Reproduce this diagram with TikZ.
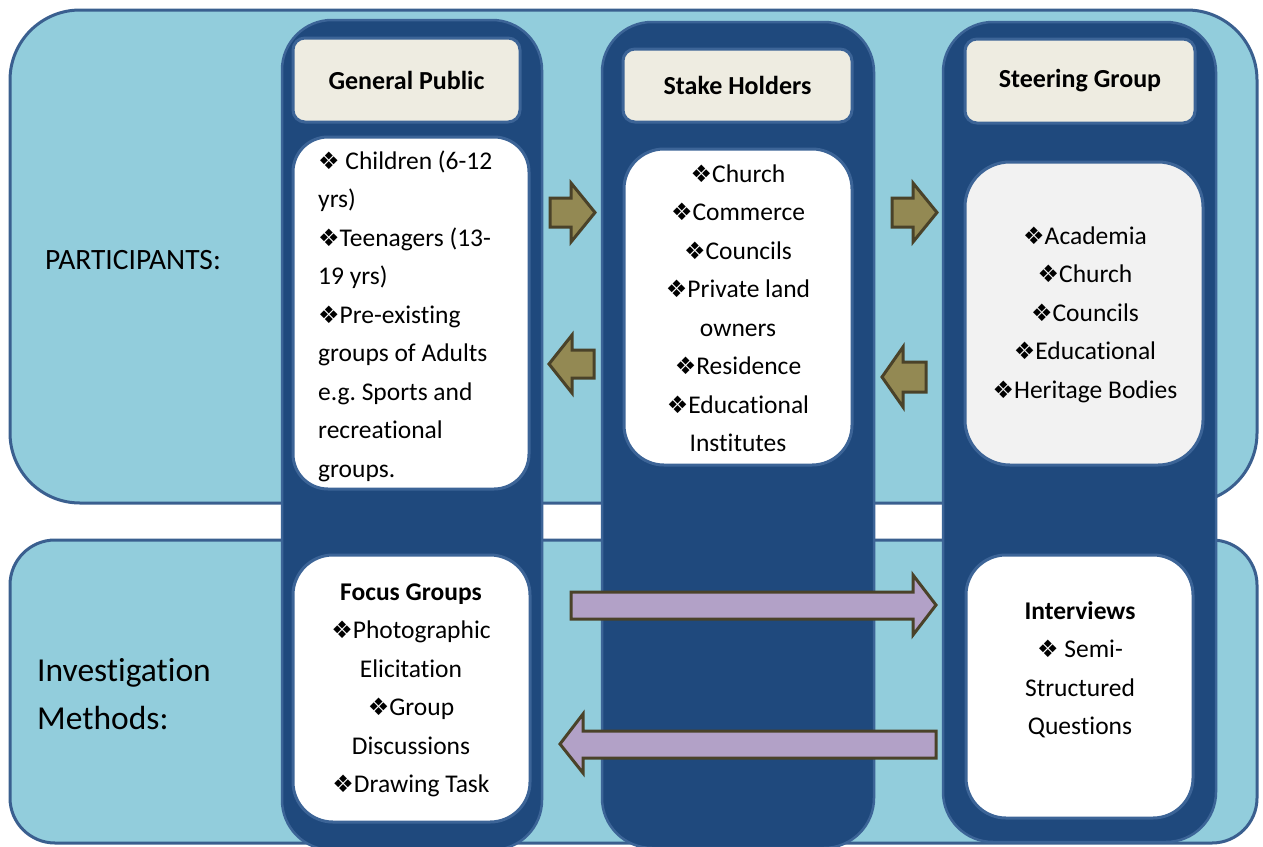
\documentclass[tikz,border=0pt]{standalone}
\usepackage{fontspec}
\setmainfont{Carlito}[Ligatures=NoCommon]
\newfontfamily\symf{DejaVu Sans}
\newcommand{\dia}{{\symf\fontsize{24}{24}\selectfont ❖}}
\definecolor{bandfill}{HTML}{92CDDC}
\definecolor{bandline}{HTML}{3A5F8F}
\definecolor{colfill}{HTML}{1F497D}
\definecolor{colline}{HTML}{3C6497}
\definecolor{headfill}{HTML}{EEECE1}
\definecolor{olivefill}{HTML}{938953}
\definecolor{arrline}{HTML}{4A4229}
\definecolor{lilac}{HTML}{B2A1C7}
\definecolor{greybox}{HTML}{F2F2F2}
\tikzset{
  band/.style={draw=bandline, line width=3pt, fill=bandfill, rectangle, inner sep=0},
  column/.style={draw=colline, line width=2.5pt, fill=colfill, rectangle, rounded corners=50pt, inner sep=0},
  header/.style={draw=colline, line width=3pt, fill=headfill, rectangle, rounded corners=12pt, inner sep=0, font=\fontsize{26}{30}\selectfont\bfseries},
  content/.style={draw=colline, line width=3pt, fill=white, rectangle, inner sep=0},
  txt/.style={inner sep=0, anchor=base, font=\fontsize{25.5}{38.5}\selectfont},
  blockarrow/.style={draw=arrline, line width=3pt, line join=miter},
}
\begin{document}
\begin{tikzpicture}[x=1pt,y=-1pt]
\useasboundingbox (0,0) rectangle (1263,846);
% bands
\node[band, rounded corners=70pt, minimum width=1247, minimum height=493] (topband) at (633.5,256.5) {};
\node[band, rounded corners=45pt, minimum width=1247, minimum height=303] (botband) at (633.5,691.5) {};
% columns
\node[column, minimum width=260, minimum height=830] (col1) at (412,435) {};
\node[column, minimum width=272, minimum height=826] (col2) at (738,435) {};
\node[column, minimum width=273, minimum height=820] (col3) at (1079.5,432) {};
% headers
\node[header, minimum width=227, minimum height=84] (h1) at (406.5,80) {General Public};
\node[header, minimum width=229, minimum height=73] (h2) at (737.5,85.5) {Stake Holders};
\node[header, minimum width=230, minimum height=84] (h3) at (1080,81) {Steering Group};
% content boxes
\node[content, rounded corners=35pt, minimum width=236, minimum height=352] (c1) at (411,313) {};
\node[content, rounded corners=40pt, minimum width=228, minimum height=316] (c2) at (738,307) {};
\node[content, fill=greybox, rounded corners=45pt, minimum width=238, minimum height=303] (c3) at (1084,313.5) {};
\node[content, rounded corners=40pt, minimum width=237, minimum height=267] (m1) at (411.5,688.5) {};
\node[content, rounded corners=40pt, minimum width=227, minimum height=263] (m2) at (1079.5,686.5) {};
% texts
\node[txt, anchor=base west] (t1) at (318,169) {\begin{tabular}[t]{@{}l@{}}\dia\ Children (6-12\\yrs)\\\dia Teenagers (13-\\19 yrs)\\\dia Pre-existing\\groups of Adults\\e.g.\ Sports and\\recreational\\groups.\end{tabular}};
\node[txt] (t2) at (738,182) {\begin{tabular}[t]{@{}c@{}}\dia Church\\\dia Commerce\\\dia Councils\\\dia Private land\\owners\\\dia Residence\\\dia Educational\\Institutes\end{tabular}};
\node[txt] (t3) at (1085,244) {\begin{tabular}[t]{@{}c@{}}\dia Academia\\\dia Church\\\dia Councils\\\dia Educational\\\dia Heritage Bodies\end{tabular}};
\node[txt] (t4) at (411,600) {\begin{tabular}[t]{@{}c@{}}\textbf{Focus Groups}\\\dia Photographic\\Elicitation\\\dia Group\\Discussions\\\dia Drawing Task\end{tabular}};
\node[txt] (t5) at (1080,619) {\begin{tabular}[t]{@{}c@{}}\textbf{Interviews}\\\dia\ Semi-\\Structured\\Questions\end{tabular}};
% side labels
\node[inner sep=0, anchor=west, font=\fontsize{29.5}{34}\selectfont] (lp) at (45,260) {PARTICIPANTS:};
\node[inner sep=0, anchor=base west, font=\fontsize{33.5}{48}\selectfont] (lm) at (37,681) {\begin{tabular}[t]{@{}l@{}}Investigation\\Methods:\end{tabular}};
% olive arrows
\draw[blockarrow, fill=olivefill] (550,198) -- (571,198) -- (571,183) -- (595,212.5) -- (571,242) -- (571,227) -- (550,227) -- cycle;
\draw[blockarrow, fill=olivefill] (594,350) -- (572,350) -- (572,335) -- (549,364) -- (572,393) -- (572,378) -- (594,378) -- cycle;
\draw[blockarrow, fill=olivefill] (892,198) -- (913,198) -- (913,183) -- (937,212.5) -- (913,242) -- (913,227) -- (892,227) -- cycle;
\draw[blockarrow, fill=olivefill] (926,362) -- (903,362) -- (903,347) -- (882,377) -- (903,407) -- (903,392) -- (926,392) -- cycle;
% lilac arrows
\draw[blockarrow, fill=lilac] (571,592) -- (913,592) -- (913,575) -- (936,605) -- (913,635) -- (913,619) -- (571,619) -- cycle;
\draw[blockarrow, fill=lilac] (936,731) -- (583,731) -- (583,714) -- (560,744) -- (583,773) -- (583,758) -- (936,758) -- cycle;
\end{tikzpicture}
\end{document}
